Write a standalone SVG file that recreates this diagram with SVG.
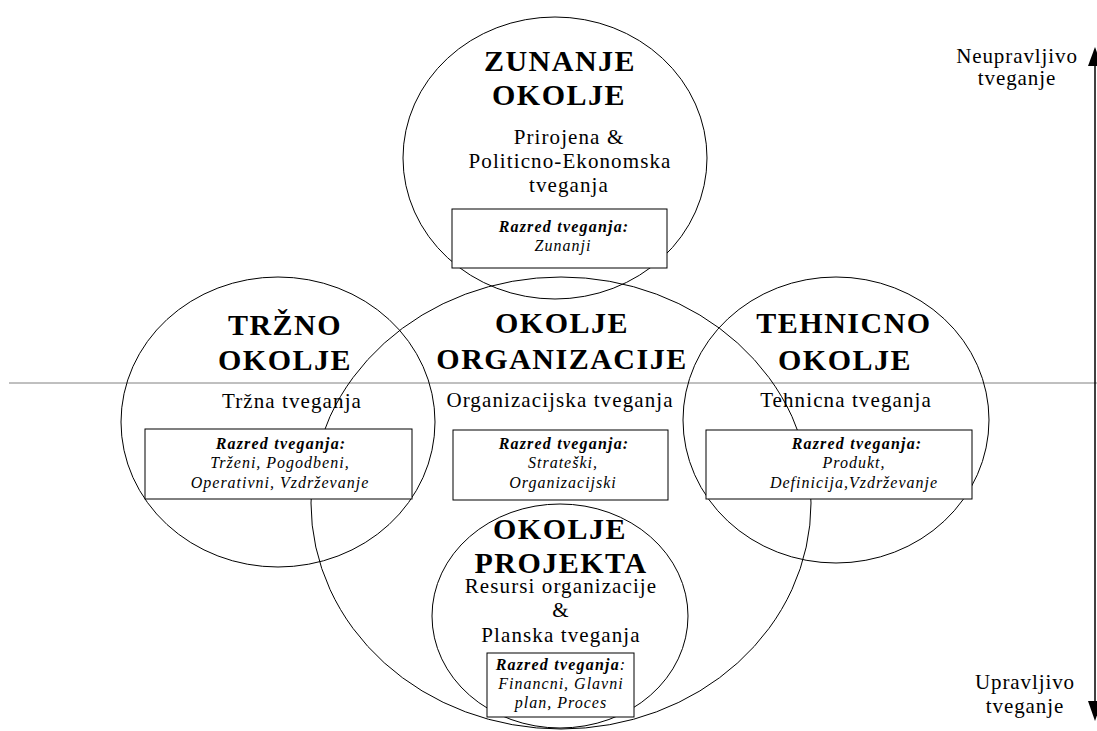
<svg xmlns="http://www.w3.org/2000/svg" width="1097" height="731" viewBox="0 0 1097 731">
<style>
  .env { fill: none; stroke: #000; stroke-width: 1; }
  .box { fill: #fff; stroke: #000; stroke-width: 1; }
  text { font-family: "Liberation Serif", "Times New Roman", serif; fill: #000; text-anchor: middle; }
  .title { font-size: 30px; font-weight: bold; letter-spacing: 1.5px; }
  .sub { font-size: 21px; letter-spacing: 1.1px; }
  .cls { font-size: 16px; font-style: italic; letter-spacing: 1px; }
  .clsh { font-size: 16px; font-style: italic; font-weight: bold; letter-spacing: 1.2px; }
  .side { font-size: 21px; letter-spacing: 0.9px; }
</style>
<rect width="1097" height="731" fill="#fff"/>

<g id="axis">
  <line x1="9" y1="383" x2="1097" y2="383" stroke="#808080" stroke-width="1"/>
  <line x1="1095" y1="60" x2="1095" y2="708" stroke="#000" stroke-width="1.5"/>
  <polygon points="1095,47 1088,66 1102,66" fill="#000"/>
  <polygon points="1095,721 1088,701 1102,701" fill="#000"/>
  <text class="side" x="1017" y="63">Neupravljivo</text>
  <text class="side" x="1017" y="85">tveganje</text>
  <text class="side" x="1025" y="689">Upravljivo</text>
  <text class="side" x="1025" y="713">tveganje</text>
</g>

<g id="connectors"></g>

<g id="outlines">
  <ellipse class="env" cx="555" cy="158" rx="152" ry="141"/>
  <ellipse class="env" cx="278" cy="422" rx="157" ry="145"/>
  <ellipse class="env" cx="561" cy="503" rx="250" ry="226"/>
  <ellipse class="env" cx="836" cy="420" rx="153" ry="143"/>
  <ellipse class="env" cx="560" cy="616" rx="128" ry="112"/>
</g>

<g id="zunanje">
  <text class="title" x="560" y="71">ZUNANJE</text>
  <text class="title" x="559" y="105">OKOLJE</text>
  <text class="sub" x="569" y="144">Prirojena &amp;</text>
  <text class="sub" x="570" y="168">Politicno-Ekonomska</text>
  <text class="sub" x="569" y="192">tveganja</text>
  <rect class="box" x="452" y="209" width="215" height="59"/>
  <text class="clsh" x="564" y="232">Razred tveganja:</text>
  <text class="cls" x="563" y="251">Zunanji</text>
</g>

<g id="trzno">
  <text class="title" x="285" y="335">TRŽNO</text>
  <text class="title" x="285" y="370">OKOLJE</text>
  <text class="sub" x="292" y="408">Tržna tveganja</text>
  <rect class="box" x="145" y="429" width="267" height="70"/>
  <text class="clsh" x="281" y="449">Razred tveganja:</text>
  <text class="cls" x="280" y="468">Trženi, Pogodbeni,</text>
  <text class="cls" x="280" y="488">Operativni, Vzdrževanje</text>
</g>

<g id="organizacija">
  <text class="title" x="562" y="333">OKOLJE</text>
  <text class="title" x="562" y="369">ORGANIZACIJE</text>
  <text class="sub" x="560" y="407">Organizacijska tveganja</text>
  <rect class="box" x="453" y="430" width="215" height="70"/>
  <text class="clsh" x="564" y="449">Razred tveganja:</text>
  <text class="cls" x="563" y="468">Strateški,</text>
  <text class="cls" x="563" y="488">Organizacijski</text>
</g>

<g id="tehnicno">
  <text class="title" x="844" y="333">TEHNICNO</text>
  <text class="title" x="845" y="370">OKOLJE</text>
  <text class="sub" x="846" y="407">Tehnicna tveganja</text>
  <rect class="box" x="706" y="430" width="266" height="69"/>
  <text class="clsh" x="857" y="449">Razred tveganja:</text>
  <text class="cls" x="854" y="468">Produkt,</text>
  <text class="cls" x="854" y="488">Definicija,Vzdrževanje</text>
</g>

<g id="projekt">
  <text class="title" x="560" y="539">OKOLJE</text>
  <text class="title" x="561" y="573">PROJEKTA</text>
  <text class="sub" x="561" y="593">Resursi organizacije</text>
  <text class="sub" x="561" y="617">&amp;</text>
  <text class="sub" x="561" y="642">Planska tveganja</text>
  <rect class="box" x="487" y="653" width="147" height="64"/>
  <text class="clsh" x="561" y="670">Razred tveganja<tspan font-weight="normal">:</tspan></text>
  <text class="cls" x="561" y="689">Financni, Glavni</text>
  <text class="cls" x="561" y="708">plan, Proces</text>
</g>
</svg>
